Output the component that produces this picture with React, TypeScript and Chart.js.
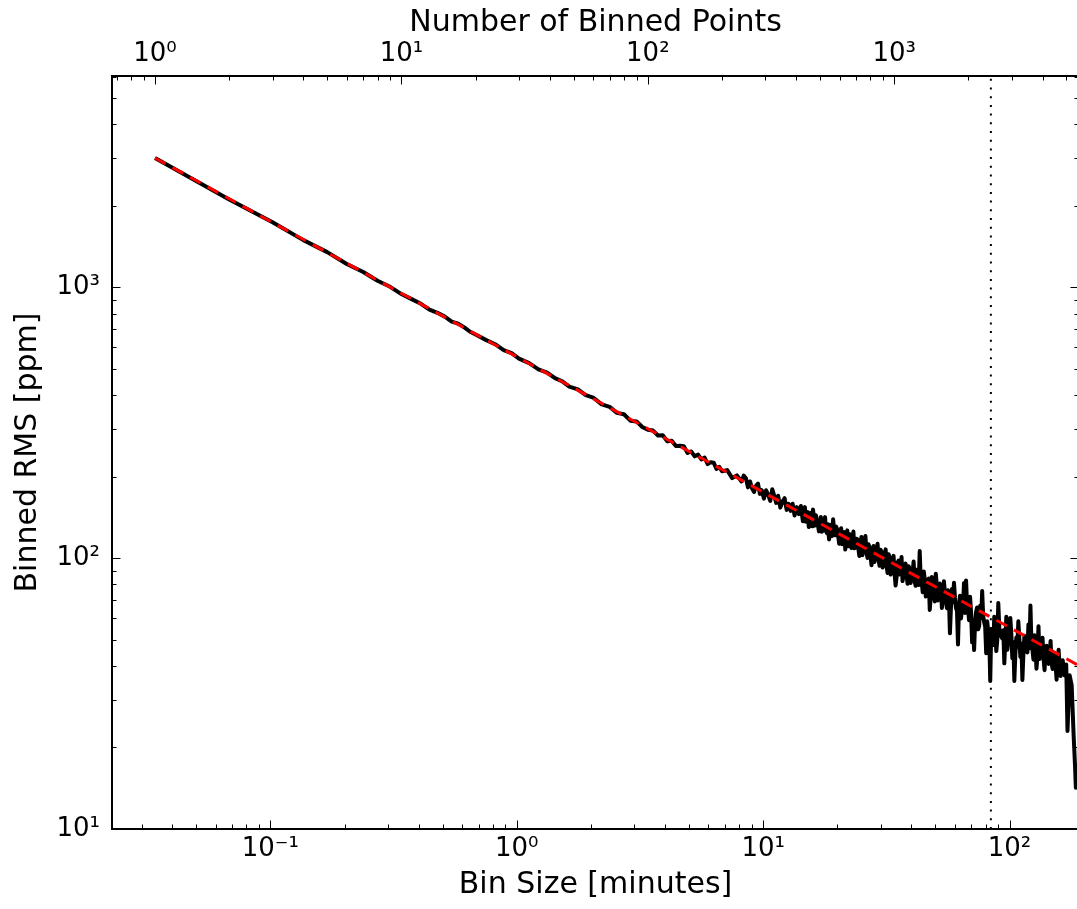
import { useEffect, useRef } from 'react';
import { Chart, registerables } from 'chart.js';

Chart.register(...registerables);

const pointsSmooth = [
  1, 2, 3, 4, 5, 6, 7, 8, 9, 10, 11, 12, 13, 14, 15, 16, 17, 18, 19, 20, 22, 24, 26, 28, 30, 33, 36, 39, 42, 45, 48, 52, 56, 60, 65, 70, 75, 80, 85, 90, 95, 100,
  105, 110, 115, 120, 125, 130, 135, 140, 145, 150, 155, 160, 165, 170, 175, 180, 185, 190, 195, 200,
  210, 220, 230, 240, 245, 250, 255,
];
const rmsSmooth = [
  3006, 2110, 1740, 1495, 1350, 1220, 1140, 1058, 1005, 945, 905, 870, 828, 806, 780, 748, 735, 712, 686, 670, 640, 617, 587, 572, 546, 525, 498, 485, 462, 450, 430, 420, 400, 392, 370, 362, 344, 340, 322, 320, 305, 298,
  296, 284, 284.5, 270, 271.6, 259.6, 260, 259, 244.6, 247.9, 237.8, 241.2, 231.7, 235.2, 222.7, 226.3, 225.4, 213.7, 217.4, 209.4,
  211.5, 197.6, 202.2, 192.1, 201.7, 197.7, 182.6,
];
const pointsA = [260, 265, 270, 275, 280, 285, 290, 296, 302, 308, 314, 320, 326, 332, 338, 345, 352, 359, 366, 373, 380, 387, 394, 402, 410, 418];
const rmsA = [192, 181, 175.6, 185, 188.6, 172.8, 178.3, 166, 178.2, 171.3, 162.8, 179.8, 169.8, 160, 170, 153.7, 161.8, 166.6, 150.8, 158.7, 149.6, 158.9, 143.8, 154.4, 145.5, 155.8];
const pointsB = [
  426, 430, 434, 438, 442, 446, 450, 455, 459, 464, 468, 473, 477, 481, 486, 490, 495, 500, 504, 509,
  514, 519, 524, 529, 534, 539, 544, 549, 554, 559, 565, 570, 576, 581, 587, 592, 598, 603, 609, 615,
  621, 627, 633, 639, 645, 651, 657, 663, 670, 676, 683, 689, 696, 702, 709, 715, 722, 729, 736, 743,
  750, 757, 764, 771, 779, 786, 794, 801, 809, 816, 824, 832, 840, 848, 856, 864, 872, 880, 889, 897,
  906, 914, 923, 931, 940, 949, 958, 967, 976, 985, 994, 1003, 1013, 1022, 1032, 1041, 1051,
];
const rmsB = [
  136.9, 145, 154.4, 136.4, 141.6, 148, 130.4, 136.7, 147.3, 131.1, 151.4, 141, 132.1, 144, 139, 133.1, 125.6, 137.1, 141.9, 125.2,
  130, 134.6, 141.8, 125.5, 123.6, 133.4, 117.3, 124.5, 132.8, 120.7, 139.2, 127.2, 121.5, 130.9, 127.8, 121, 113.1, 122.4, 129.1, 112.7,
  119.4, 124.8, 107.6, 115.3, 126.7, 110.7, 119.6, 122.5, 109.1, 113.3, 125.4, 108.8, 109.3, 118, 117.4, 109, 101.8, 111.3, 119.7, 102.6,
  106.5, 112.6, 120.8, 106.1, 100.2, 112.6, 109.9, 102, 94.1, 105.2, 111, 96.9, 101.6, 107.3, 113, 99.2, 93.7, 107.4, 105.8, 92.4,
  94.9, 99.4, 107.8, 93.6, 88.2, 103.5, 101, 87, 89.5, 95.8, 102, 88.3, 79.3, 84.6, 96.4, 97.9, 87.1,
];
const pointsC = [
  1071, 1081, 1091, 1101, 1112, 1122, 1133, 1144, 1155, 1166, 1177, 1188, 1199, 1210, 1222, 1233, 1245, 1257, 1269, 1281,
  1293, 1305, 1318, 1330, 1343, 1355, 1368, 1381, 1394, 1407, 1421, 1434, 1448, 1461, 1475, 1489, 1503, 1517, 1532, 1546,
  1561, 1576, 1591, 1606, 1621, 1636, 1652, 1667, 1683, 1699, 1715, 1731, 1748, 1764, 1781, 1798, 1815, 1832, 1849, 1866,
  1884, 1902, 1920, 1938, 1957, 1975, 1994, 2013, 2032, 2051, 2071, 2090, 2110, 2130, 2150, 2170, 2191, 2212, 2233, 2254,
  2275, 2296, 2318, 2340, 2362, 2384, 2407, 2430, 2453, 2476, 2500, 2523, 2547, 2571, 2596, 2620, 2645, 2670, 2695,
];
const rmsC = [
  101, 82.3, 86.5, 93.3, 95.5, 87, 80.4, 93.3, 91.9, 81, 85, 89, 97.2, 82.1, 79.1, 90.7, 89.5, 79.7, 106.3, 84,
  81.9, 74.9, 89.4, 84, 72.2, 78.4, 82.9, 84.1, 64.4, 72.1, 85.3, 79.4, 73.5, 69.2, 87.7, 79.5, 69.8, 73.3, 80.6, 78.8,
  65.5, 69.6, 82.2, 75, 71, 65.4, 76.2, 72.1, 52.8, 65.6, 77, 68.7, 81.2, 71.6, 65.5, 63.8, 48, 66.7, 72.7, 59.9,
  65, 66.8, 81, 62.8, 82.8, 67.6, 64.6, 59, 72, 63.1, 48.9, 55.9, 45.8, 58.6, 63.5, 65.8, 54.6, 56.2, 66.8, 60.1,
  75.6, 61.4, 58, 55.9, 44.6, 58.5, 53.9, 51.9, 35.2, 54.4, 49.3, 47.8, 60.8, 56.3, 45.4, 49.9, 68.3, 55.3, 52.1,
];
const pointsD = [
  2746, 2772, 2798, 2824, 2851, 2878, 2905, 2932, 2960, 2988, 3016, 3044, 3073, 3102, 3131, 3160, 3190, 3220, 3251, 3282,
  3313, 3344, 3376, 3408, 3440, 3472, 3505, 3538, 3572, 3606, 3640, 3674, 3709, 3744, 3779, 3815, 3851, 3887, 3924, 3961,
  3999, 4037, 4075, 4113, 4152, 4191, 4231, 4271, 4311, 4352, 4393, 4434, 4476, 4518, 4561, 4604, 4648, 4692, 4736, 4781,
  4826, 4872, 4918, 4954, 4990,
];
const rmsD = [
  50.5, 54.2, 40.9, 49.8, 60.8, 45.9, 50.2, 50, 60.2, 52.3, 42.7, 49, 35.2, 44.3, 51, 47.1, 58.5, 50.4, 43.2, 48.3,
  35.5, 44.2, 51.7, 48.9, 45.1, 44.9, 56.9, 46.5, 66.9, 47.6, 45.8, 42.2, 51.9, 47.1, 39.1, 43.8, 56.1, 42.4, 43.2, 45.4,
  50.8, 42.6, 38.6, 45, 47.5, 41.8, 40.7, 42.8, 49.5, 41, 39, 42.8, 44, 40.2, 35.6, 41.2, 45.9, 39.5, 36.7, 41.3,
  42, 39.7, 36.9, 40.1, 40.5,
];
const pointsTail = [5050, 5150, 5250, 5350, 5420, 5460];
const rmsTail = [23, 37, 34, 22, 17, 14.2];

const binnedPoints = [...pointsSmooth, ...pointsA, ...pointsB, ...pointsC, ...pointsD, ...pointsTail];
const binnedRms = [...rmsSmooth, ...rmsA, ...rmsB, ...rmsC, ...rmsD, ...rmsTail];

// Expected (white-noise) RMS line
const fitPoints = [1, 10, 100, 1000, 5623];
const fitRms = [3006, 951, 300.6, 95.1, 40.1];

// Vertical dotted marker (bin size in minutes)
const markerBinSize = [84, 84];
const markerRms = [10, 6035];

const binSizeTicks = [0.1, 1, 10, 100];
const binSizeTickLabels = ['10⁻¹', '10⁰', '10¹', '10²'];
const pointsTicks = [1, 10, 100, 1000];
const pointsTickLabels = ['10⁰', '10¹', '10²', '10³'];
const rmsTicks = [10, 100, 1000];
const rmsTickLabels = ['10¹', '10²', '10³'];

const binSizeRange = [0.02277, 191.4];
const pointsRange = [0.669, 5623];
const rmsRange = [10, 6035];

const FONT = 'DejaVu Sans';
const CANVAS_W = 1082;
const CANVAS_H = 909;

function tickCallback(values: number[], labels: string[]) {
  return (v: any) => {
    const val = Number(v);
    const i = values.findIndex((t) => Math.abs(t - val) / t < 1e-6);
    return i >= 0 ? labels[i] : '';
  };
}

function setTicks(values: number[]) {
  return (scale: any) => {
    scale.ticks = values.map((v) => ({ value: v }));
  };
}

function logTickList(min: number, max: number) {
  const out: { v: number; major: boolean }[] = [];
  const e0 = Math.floor(Math.log10(min));
  const e1 = Math.ceil(Math.log10(max));
  for (let e = e0; e <= e1; e++) {
    for (let k = 1; k <= 9; k++) {
      const v = k * Math.pow(10, e);
      if (v >= min * 0.99999 && v <= max * 1.00001) out.push({ v, major: k === 1 });
    }
  }
  return out;
}

const frameTicks = {
  id: 'frameTicks',
  afterDatasetsDraw(chart: any) {
    const { ctx, chartArea: ca, scales } = chart;
    const MAJ = 8.5;
    const MIN = 4.5;
    ctx.save();
    ctx.strokeStyle = '#000';
    ctx.lineWidth = 1;
    ctx.beginPath();
    for (const t of logTickList(scales.x.min, scales.x.max)) {
      const p = Math.round(scales.x.getPixelForValue(t.v)) + 0.5;
      const L = t.major ? MAJ : MIN;
      ctx.moveTo(p, ca.bottom);
      ctx.lineTo(p, ca.bottom - L);
    }
    for (const t of logTickList(scales.x2.min, scales.x2.max)) {
      const p = Math.round(scales.x2.getPixelForValue(t.v)) + 0.5;
      const L = t.major ? MAJ : MIN;
      ctx.moveTo(p, ca.top);
      ctx.lineTo(p, ca.top + L);
    }
    for (const t of logTickList(scales.y.min, scales.y.max)) {
      const p = Math.round(scales.y.getPixelForValue(t.v)) + 0.5;
      const L = t.major ? MAJ : MIN;
      ctx.moveTo(ca.left, p);
      ctx.lineTo(ca.left + L, p);
      ctx.moveTo(ca.right, p);
      ctx.lineTo(ca.right - L, p);
    }
    ctx.stroke();
    ctx.lineWidth = 2;
    ctx.strokeRect(ca.left, ca.top, ca.right - ca.left, ca.bottom - ca.top);
    ctx.restore();
  },
};

export default function App() {
  const ref = useRef<HTMLCanvasElement | null>(null);

  useEffect(() => {
    if (!ref.current) return;
    const tickFont = { family: FONT, size: 26 };
    const titleFont = { family: FONT, size: 30 };
    const chart = new Chart(ref.current, {
      type: 'line',
      data: {
        datasets: [
          {
            label: 'expected',
            data: fitPoints.map((n, i) => ({ x: n, y: fitRms[i] })),
            xAxisID: 'x2',
            yAxisID: 'y',
            borderColor: '#ff0000',
            borderWidth: 3,
            borderDash: [12, 8],
            borderCapStyle: 'butt',
            pointRadius: 0,
            tension: 0,
            order: 0,
          },
          {
            label: 'marker',
            data: markerBinSize.map((b, i) => ({ x: b, y: markerRms[i] })),
            xAxisID: 'x',
            yAxisID: 'y',
            borderColor: '#000',
            borderWidth: 2,
            borderDash: [2, 6.7],
            borderCapStyle: 'butt',
            pointRadius: 0,
            order: 1,
          },
          {
            label: 'binned',
            data: binnedPoints.map((n, i) => ({ x: n, y: binnedRms[i] })),
            xAxisID: 'x2',
            yAxisID: 'y',
            borderColor: '#000',
            borderWidth: 4,
            borderJoinStyle: 'round',
            borderCapStyle: 'butt',
            pointRadius: 0,
            tension: 0,
            order: 2,
          },
        ],
      } as any,
      options: {
        responsive: false,
        animation: false,
        devicePixelRatio: 1,
        events: [],
        layout: { padding: { left: 0, top: 0, bottom: 0, right: CANVAS_W - 1079 } },
        plugins: { legend: { display: false }, tooltip: { enabled: false }, title: { display: false } },
        scales: {
          x: {
            type: 'logarithmic',
            position: 'bottom',
            min: binSizeRange[0],
            max: binSizeRange[1],
            bounds: 'data',
            grid: { display: false, drawTicks: false },
            border: { display: false },
            ticks: {
              autoSkip: false,
              maxRotation: 0,
              minRotation: 0,
              padding: 5,
              color: '#000',
              font: tickFont,
              callback: tickCallback(binSizeTicks, binSizeTickLabels),
            },
            title: { display: true, text: 'Bin Size [minutes]', color: '#000', font: titleFont, padding: { top: 0, bottom: 6 } },
            afterBuildTicks: setTicks(binSizeTicks),
            afterFit: (s: any) => { s.height = 80; },
          },
          x2: {
            type: 'logarithmic',
            position: 'top',
            display: true,
            min: pointsRange[0],
            max: pointsRange[1],
            bounds: 'data',
            grid: { display: false, drawTicks: false },
            border: { display: false },
            ticks: {
              autoSkip: false,
              maxRotation: 0,
              minRotation: 0,
              padding: 6,
              color: '#000',
              font: tickFont,
              callback: tickCallback(pointsTicks, pointsTickLabels),
            },
            title: { display: true, text: 'Number of Binned Points', color: '#000', font: titleFont, padding: { top: 5, bottom: 0 } },
            afterBuildTicks: setTicks(pointsTicks),
            afterFit: (s: any) => { s.height = 76; },
          },
          y: {
            type: 'logarithmic',
            position: 'left',
            min: rmsRange[0],
            max: rmsRange[1],
            bounds: 'data',
            grid: { display: false, drawTicks: false },
            border: { display: false },
            ticks: {
              autoSkip: false,
              padding: 12,
              color: '#000',
              font: tickFont,
              callback: tickCallback(rmsTicks, rmsTickLabels),
            },
            title: { display: true, text: 'Binned RMS [ppm]', color: '#000', font: titleFont, padding: { top: 10, bottom: 0 } },
            afterBuildTicks: setTicks(rmsTicks),
            afterFit: (s: any) => { s.width = 112; },
          },
        },
      } as any,
      plugins: [frameTicks],
    });
    return () => chart.destroy();
  }, []);

  return (
    <div style={{ position: 'fixed', left: 0, top: 0, width: 1077, height: 909, overflow: 'hidden', background: '#fff' }}>
      <canvas ref={ref} width={CANVAS_W} height={CANVAS_H} style={{ display: 'block', width: CANVAS_W, height: CANVAS_H }} />
    </div>
  );
}
